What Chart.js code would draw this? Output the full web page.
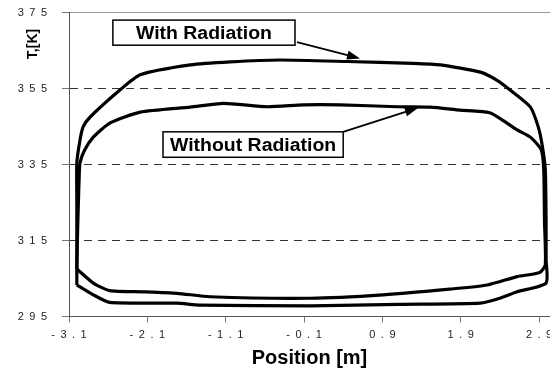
<!DOCTYPE html>
<html>
<head>
<meta charset="utf-8">
<script src="https://cdn.jsdelivr.net/npm/chart.js@4.4.0/dist/chart.umd.min.js"></script>
<style>
  body { margin: 0; background: #fff; }
  canvas { display: block; }
</style>
</head>
<body>
<canvas id="myChart" width="550" height="372"></canvas>
<script>
// loop WITH radiation, starting at the bottom-left corner and going clockwise
const withRadX = [-3.00, -3.00, -3.00, -3.00, -2.96, -2.92, -2.83, -2.45, -2.19, -1.55, -1.04, -0.41, 0.45, 1.29, 1.64, 2.15, 2.36, 2.53, 2.79, 2.89, 2.94, 2.98, 2.99, 2.99, 2.99, 2.62, 2.40, 2.15, 1.12, -0.02, -1.43, -1.72, -2.58, -2.79, -3.00];
const withRadT = [303.3, 312.0, 325.0, 335.4, 341.4, 344.9, 347.5, 354.6, 358.6, 361.2, 362.0, 362.5, 362.1, 361.6, 361.2, 359.3, 357.2, 354.6, 350.1, 344.9, 340.1, 333.6, 320.0, 310.0, 303.8, 301.5, 299.8, 298.5, 298.2, 297.8, 298.0, 298.5, 298.7, 300.7, 303.3];

// loop WITHOUT radiation
const noRadX = [-3.00, -2.99, -2.98, -2.97, -2.96, -2.90, -2.79, -2.58, -2.19, -1.55, -1.13, -0.57, -0.11, 0.36, 1.09, 1.51, 1.89, 2.27, 2.49, 2.62, 2.79, 2.93, 2.96, 2.97, 2.98, 2.91, 2.62, 2.24, 1.76, 0.91, -0.02, -1.30, -1.72, -2.15, -2.58, -2.79, -3.00];
const noRadT = [307.5, 317.8, 325.0, 331.7, 335.4, 338.8, 342.2, 345.9, 348.8, 350.1, 351.1, 350.2, 350.7, 350.7, 350.2, 350.1, 349.3, 348.6, 345.9, 344.1, 342.2, 338.8, 333.6, 320.0, 308.6, 306.6, 305.5, 303.3, 302.2, 300.7, 299.8, 300.2, 301.1, 301.5, 301.8, 303.8, 307.5];

const xTicks = [-3.1, -2.1, -1.1, -0.1, 0.9, 1.9, 2.9];
const yTicks = [295, 315, 335, 355, 375];

const ctx = document.getElementById('myChart');
const FONT = '"Liberation Sans", Arial, sans-serif';

function toPoints(xs, ys) {
    return xs.map((x, i) => ({ x: x, y: ys[i] }));
}
// old excel look: the digits are spread out
function spread(str) {
    return str.split('').join('\u2002');
}

// boxed labels with arrows, placed in data coordinates
const notes = [
    { text: 'With Radiation', box: [-2.54, 373.0, -0.215, 366.4], from: [-0.19, 367.2], to: [0.615, 362.9] },
    { text: 'Without Radiation', box: [-1.90, 343.6, 0.40, 336.9], from: [0.40, 343.6], to: [1.355, 349.9] },
];

const notesPlugin = {
    id: 'notes',
    afterDatasetsDraw(chart) {
        const c = chart.ctx;
        const xs = chart.scales.x, ys = chart.scales.y;
        c.save();
        notes.forEach(n => {
            const x1 = xs.getPixelForValue(n.box[0]), y1 = ys.getPixelForValue(n.box[1]);
            const x2 = xs.getPixelForValue(n.box[2]), y2 = ys.getPixelForValue(n.box[3]);
            // arrow
            const fx = xs.getPixelForValue(n.from[0]), fy = ys.getPixelForValue(n.from[1]);
            const tx = xs.getPixelForValue(n.to[0]), ty = ys.getPixelForValue(n.to[1]);
            const ang = Math.atan2(ty - fy, tx - fx);
            c.strokeStyle = '#000';
            c.fillStyle = '#000';
            c.lineWidth = 1.8;
            c.beginPath();
            c.moveTo(fx, fy);
            c.lineTo(tx - 9 * Math.cos(ang), ty - 9 * Math.sin(ang));
            c.stroke();
            c.beginPath();
            c.moveTo(tx, ty);
            c.lineTo(tx - 13 * Math.cos(ang) + 4.5 * Math.sin(ang), ty - 13 * Math.sin(ang) - 4.5 * Math.cos(ang));
            c.lineTo(tx - 13 * Math.cos(ang) - 4.5 * Math.sin(ang), ty - 13 * Math.sin(ang) + 4.5 * Math.cos(ang));
            c.closePath();
            c.fill();
            // box
            c.fillStyle = '#fff';
            c.fillRect(x1, y1, x2 - x1, y2 - y1);
            c.lineWidth = 1.5;
            c.strokeRect(x1, y1, x2 - x1, y2 - y1);
            c.fillStyle = '#000';
            c.font = 'bold 18px ' + FONT;
            c.textAlign = 'center';
            c.textBaseline = 'middle';
            c.save();
            c.translate((x1 + x2) / 2, (y1 + y2) / 2 + 1);
            c.scale(1.08, 1);
            c.fillText(n.text, 0, 0);
            c.restore();
        });
        // y axis title sits up near the top
        c.font = 'bold 14px ' + FONT;
        c.fillStyle = '#000';
        c.textAlign = 'center';
        c.textBaseline = 'middle';
        c.translate(33, 44);
        c.rotate(-Math.PI / 2);
        c.fillText('T,[K]', 0, 0);
        c.restore();
    }
};

const chart = new Chart(ctx, {
    type: 'scatter',
    data: {
        datasets: [{
            label: 'With Radiation',
            data: toPoints(withRadX, withRadT),
            showLine: true,
            borderColor: '#000',
            borderWidth: 3.2,
            pointRadius: 0,
            tension: 0.2,
        }, {
            label: 'Without Radiation',
            data: toPoints(noRadX, noRadT),
            showLine: true,
            borderColor: '#000',
            borderWidth: 3.2,
            pointRadius: 0,
            tension: 0.2,
        }]
    },
    options: {
        responsive: false,
        animation: false,
        layout: { padding: { top: 12.5, right: 0, left: 0, bottom: 0 } },
        plugins: {
            legend: { display: false },
            tooltip: { enabled: false },
        },
        scales: {
            x: {
                type: 'linear',
                min: -3.1,
                max: 3.04,
                afterBuildTicks: s => { s.ticks = xTicks.map(v => ({ value: v })); },
                afterFit: s => { s.height = 55.5; s.paddingLeft = 0; s.paddingRight = 0; },
                grid: { color: 'transparent', tickColor: '#777', tickLength: 6, drawOnChartArea: false },
                border: { color: '#555', width: 1 },
                ticks: {
                    color: '#222',
                    padding: 6,
                    maxRotation: 0,
                    autoSkip: false,
                    font: { family: FONT, size: 11 },
                    callback: v => spread(v.toFixed(1)),
                },
                title: {
                    display: true,
                    text: 'Position [m]',
                    color: '#000',
                    font: { family: FONT, size: 20, weight: 'bold' },
                    padding: { top: 0, bottom: 2 },
                },
            },
            y: {
                min: 295,
                max: 375,
                afterBuildTicks: s => { s.ticks = yTicks.map(v => ({ value: v })); },
                afterFit: s => { s.width = 69; s.paddingTop = 0; s.paddingBottom = 0; },
                grid: {
                    color: c => (c.tick.value === 295 ? 'transparent' : (c.tick.value === 375 ? '#999' : '#333')),
                    tickColor: '#777',
                    tickLength: 7,
                },
                border: {
                    color: '#555',
                    width: 1,
                    dash: c => (c.tick && c.tick.value !== 375 ? [8, 6] : []),
                },
                ticks: {
                    color: '#222',
                    padding: 15,
                    font: { family: FONT, size: 11 },
                    callback: v => spread(String(v)),
                },
            },
        },
    },
    plugins: [notesPlugin],
});
</script>
</body>
</html>
